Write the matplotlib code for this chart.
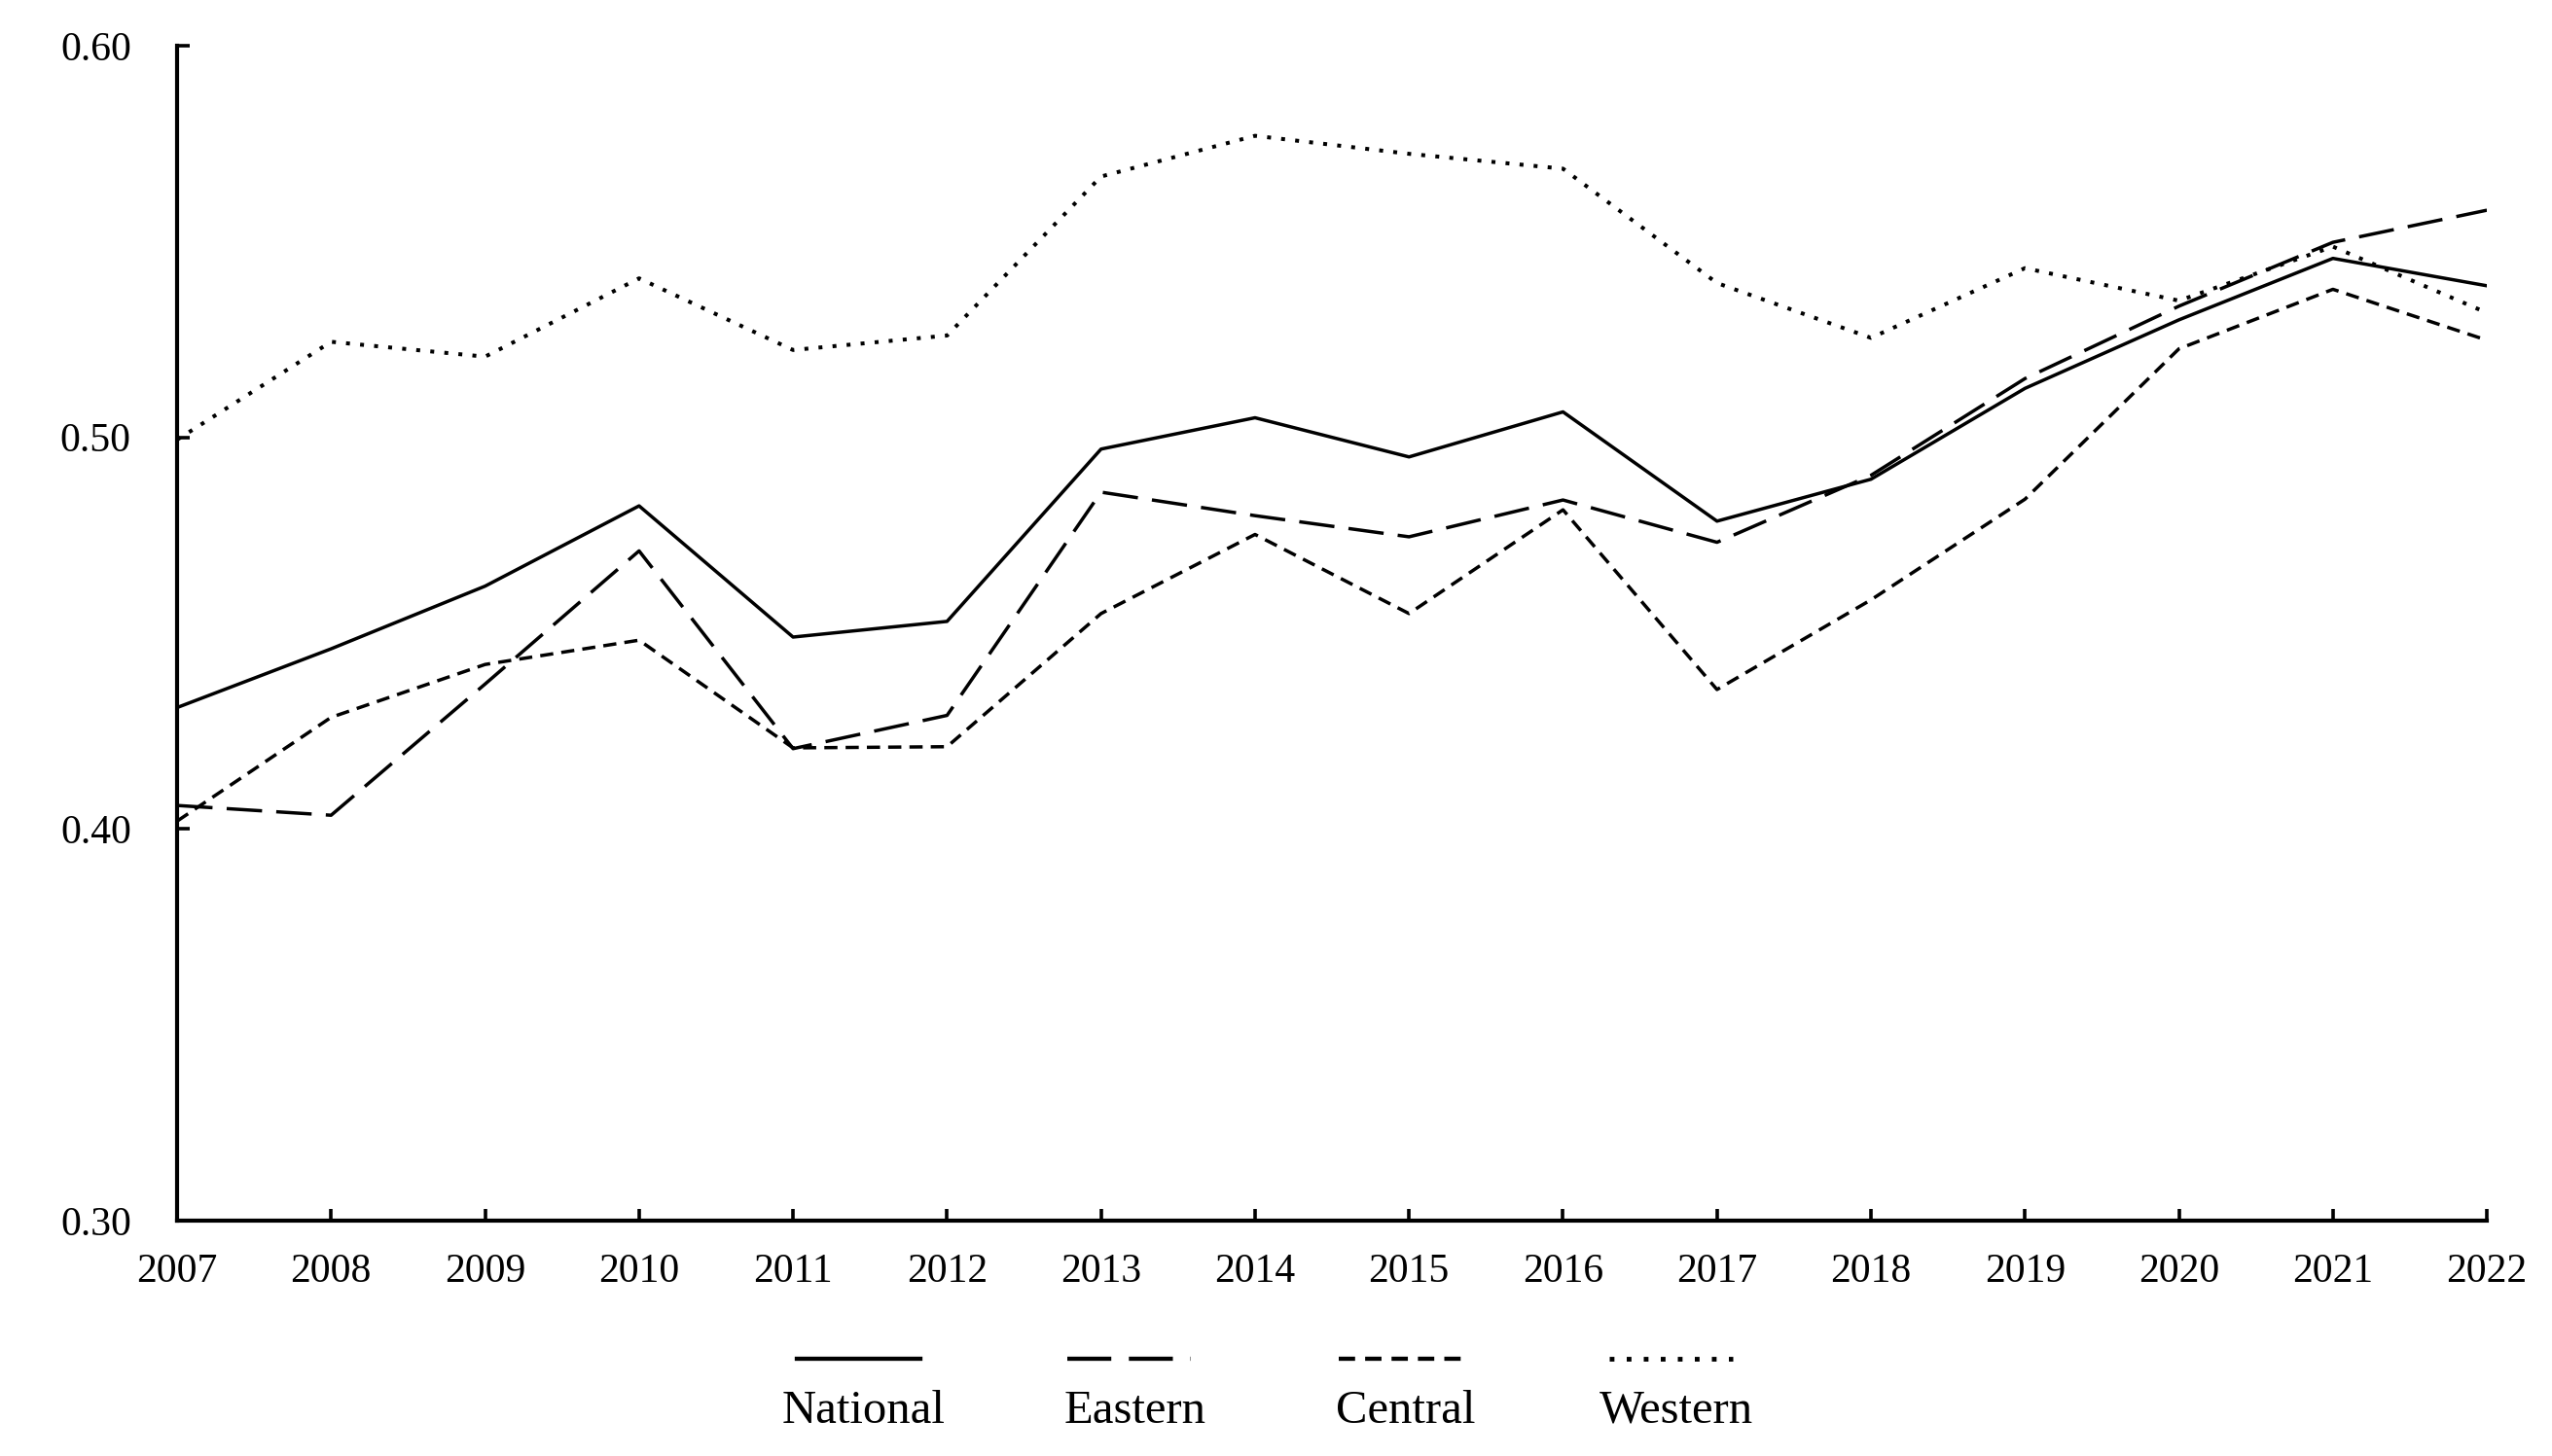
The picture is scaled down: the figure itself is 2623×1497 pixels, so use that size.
import matplotlib
matplotlib.use("Agg")
import matplotlib.pyplot as plt
from matplotlib.lines import Line2D

# values
years = [2007, 2008, 2009, 2010, 2011, 2012, 2013, 2014,
         2015, 2016, 2017, 2018, 2019, 2020, 2021, 2022]
national = [0.431, 0.446, 0.462, 0.4825, 0.449, 0.453, 0.497, 0.505,
            0.495, 0.5065, 0.4786, 0.4893, 0.5125, 0.530, 0.5457, 0.5387]
eastern = [0.406, 0.4035, 0.437, 0.471, 0.4205, 0.429, 0.486, 0.480,
           0.4746, 0.484, 0.4732, 0.4903, 0.515, 0.5335, 0.5498, 0.558]
central = [0.402, 0.4285, 0.442, 0.4482, 0.4207, 0.421, 0.455, 0.4752,
           0.455, 0.4815, 0.4356, 0.4585, 0.4842, 0.5226, 0.5378, 0.5248]
western = [0.4994, 0.5244, 0.5206, 0.5406, 0.5223, 0.526, 0.5666, 0.577,
           0.5724, 0.5686, 0.5394, 0.5254, 0.5432, 0.5349, 0.5487, 0.5318]
series_names = ["National", "Eastern", "Central", "Western"]
y_ticks = [0.30, 0.40, 0.50, 0.60]

plt.rcParams['font.family'] = ['Liberation Serif', 'DejaVu Serif']

LW = 2.5
styles = [
    dict(linestyle='-', linewidth=LW),
    dict(linestyle=(0, (10.5, 4.2)), linewidth=LW),
    dict(linestyle=(0, (3.9, 2.4)), linewidth=LW),
    dict(linestyle=(0, (1.0, 2.6)), linewidth=LW + 0.4),
]

fig = plt.figure(figsize=(26.23, 14.97), dpi=100)
ax = fig.add_axes([0.0694, 0.1617, 0.9051, 0.8069])

all_series = [national, eastern, central, western]
for vals, st in zip(all_series, styles):
    ax.plot(years, vals, color='black', **st)

ax.set_xlim(years[0], years[-1])
ax.set_ylim(0.30, 0.60)
ax.set_xticks(years)
ax.set_xticklabels([str(y) for y in years])
ax.set_yticks(y_ticks)
ax.set_yticklabels([f"{v:.2f}" for v in y_ticks])

for side in ['top', 'right']:
    ax.spines[side].set_visible(False)
for side in ['left', 'bottom']:
    ax.spines[side].set_linewidth(3.0)
ax.tick_params(axis='both', direction='in', length=9, width=2.6, labelsize=30)
ax.tick_params(axis='y', pad=34)
ax.tick_params(axis='x', pad=24)

# legend: line sample with label underneath
leg_x0 = 0.3365
leg_step = 0.1061
half = 0.0242
for i, (name, st) in enumerate(zip(series_names, styles)):
    cx = leg_x0 + i * leg_step
    st = dict(st)
    st['linewidth'] = st['linewidth'] + 0.6
    fig.add_artist(Line2D([cx - half, cx + half], [0.0668, 0.0668],
                          transform=fig.transFigure, color='black', **st))
    fig.text(cx + 0.002, 0.031, name, ha='center', va='center', fontsize=35)

fig.savefig("out.png", dpi=100)
